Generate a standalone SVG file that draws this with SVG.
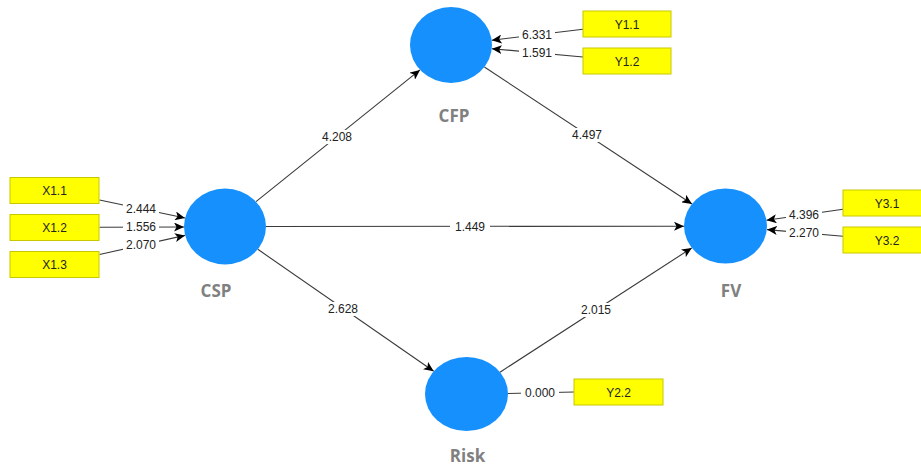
<svg xmlns="http://www.w3.org/2000/svg" width="921" height="467" viewBox="0 0 921 467">
<defs>
<style>
.lv{fill:#1590fc;}
.nl{font-family:"Open Sans","Liberation Sans",sans-serif;font-weight:bold;font-size:17px;fill:#808080;text-anchor:middle;}
.ind rect{fill:#ffff00;stroke:#c8c800;stroke-width:1;}
.ind text{font-family:"Liberation Sans",Arial,sans-serif;font-size:12px;fill:#222;text-anchor:middle;}
.c{stroke:#3a3a3a;stroke-width:1.1;fill:none;}
.a{marker-end:url(#arr);}
.lb rect{fill:#fff;}
.lb text{font-family:"Liberation Sans",Arial,sans-serif;font-size:12px;fill:#222;text-anchor:middle;}
</style>
<marker id="arr" markerWidth="11" markerHeight="9" refX="10" refY="4.5" orient="auto" markerUnits="userSpaceOnUse">
<path d="M0,0 L10,4.5 L0,9 L2.5,4.5 z" fill="#000"/>
</marker>
</defs>
<rect width="921" height="467" fill="#fff"/>
<g id="connectors">
<line class="c a" x1="99.5" y1="200" x2="185" y2="218"/>
<line class="c a" x1="99.5" y1="227.3" x2="184" y2="227"/>
<line class="c a" x1="99.5" y1="254.5" x2="185" y2="235.4"/>
<line class="c a" x1="256" y1="201.6" x2="420" y2="69.9"/>
<line class="c a" x1="484.4" y1="67" x2="692" y2="204"/>
<line class="c a" x1="266" y1="226.5" x2="684" y2="226.2"/>
<line class="c a" x1="257.8" y1="249.3" x2="433.7" y2="371.3"/>
<line class="c a" x1="500" y1="372.2" x2="691.8" y2="247.9"/>
<line class="c a" x1="583" y1="29.3" x2="491.7" y2="40.2"/>
<line class="c a" x1="583" y1="57" x2="491.8" y2="48.7"/>
<line class="c a" x1="843" y1="209.3" x2="766.5" y2="220.2"/>
<line class="c a" x1="843" y1="236.2" x2="767" y2="229.6"/>
<line class="c" x1="508" y1="393.5" x2="574" y2="392"/>
<g class="lb">
<rect x="123" y="202" width="36" height="14"/><text x="141" y="213">2.444</text>
<rect x="123" y="220" width="36" height="14"/><text x="141" y="231">1.556</text>
<rect x="123" y="238" width="36" height="14"/><text x="141" y="249">2.070</text>
<rect x="317" y="130" width="40" height="14"/><text x="337" y="141">4.208</text>
<rect x="567" y="128" width="40" height="14"/><text x="587" y="139">4.497</text>
<rect x="450" y="219" width="40" height="14"/><text x="470" y="230.5">1.449</text>
<rect x="323" y="302" width="40" height="14"/><text x="343" y="313">2.628</text>
<rect x="576" y="303" width="40" height="14"/><text x="596" y="314">2.015</text>
<rect x="519" y="27" width="36" height="14"/><text x="537" y="38.5">6.331</text>
<rect x="519" y="46" width="36" height="14"/><text x="537" y="57">1.591</text>
<rect x="786" y="208" width="36" height="14"/><text x="804" y="219">4.396</text>
<rect x="786" y="226" width="36" height="14"/><text x="804" y="237">2.270</text>
<rect x="521" y="386" width="38" height="14"/><text x="540" y="397">0.000</text>
</g>
</g>
<g id="CSP"><ellipse class="lv" cx="225" cy="226.5" rx="41" ry="38"/><text class="nl" x="216" y="297">CSP</text></g>
<g id="CFP"><ellipse class="lv" cx="451" cy="45" rx="41" ry="38"/><text class="nl" x="454" y="122">CFP</text></g>
<g id="FV"><ellipse class="lv" cx="725.5" cy="226" rx="41.5" ry="37.5"/><text class="nl" x="731" y="297">FV</text></g>
<g id="Risk"><ellipse class="lv" cx="466.5" cy="394" rx="41.5" ry="37"/><text class="nl" x="467.5" y="462">Risk</text></g>
<g id="X1.1" class="ind"><rect x="10" y="177.5" width="89" height="26"/><text x="54.5" y="195">X1.1</text></g>
<g id="X1.2" class="ind"><rect x="10" y="214.5" width="89" height="26"/><text x="54.5" y="232">X1.2</text></g>
<g id="X1.3" class="ind"><rect x="10" y="251.5" width="89" height="26"/><text x="54.5" y="269">X1.3</text></g>
<g id="Y1.1" class="ind"><rect x="583" y="11" width="88" height="26"/><text x="627" y="28.5">Y1.1</text></g>
<g id="Y1.2" class="ind"><rect x="583" y="48" width="88" height="26"/><text x="627" y="65.5">Y1.2</text></g>
<g id="Y3.1" class="ind"><rect x="843" y="190" width="88" height="26"/><text x="887" y="207.5">Y3.1</text></g>
<g id="Y3.2" class="ind"><rect x="843" y="227" width="88" height="26"/><text x="887" y="244.5">Y3.2</text></g>
<g id="Y2.2" class="ind"><rect x="574" y="379" width="89" height="26"/><text x="618.5" y="396.5">Y2.2</text></g>
</svg>
